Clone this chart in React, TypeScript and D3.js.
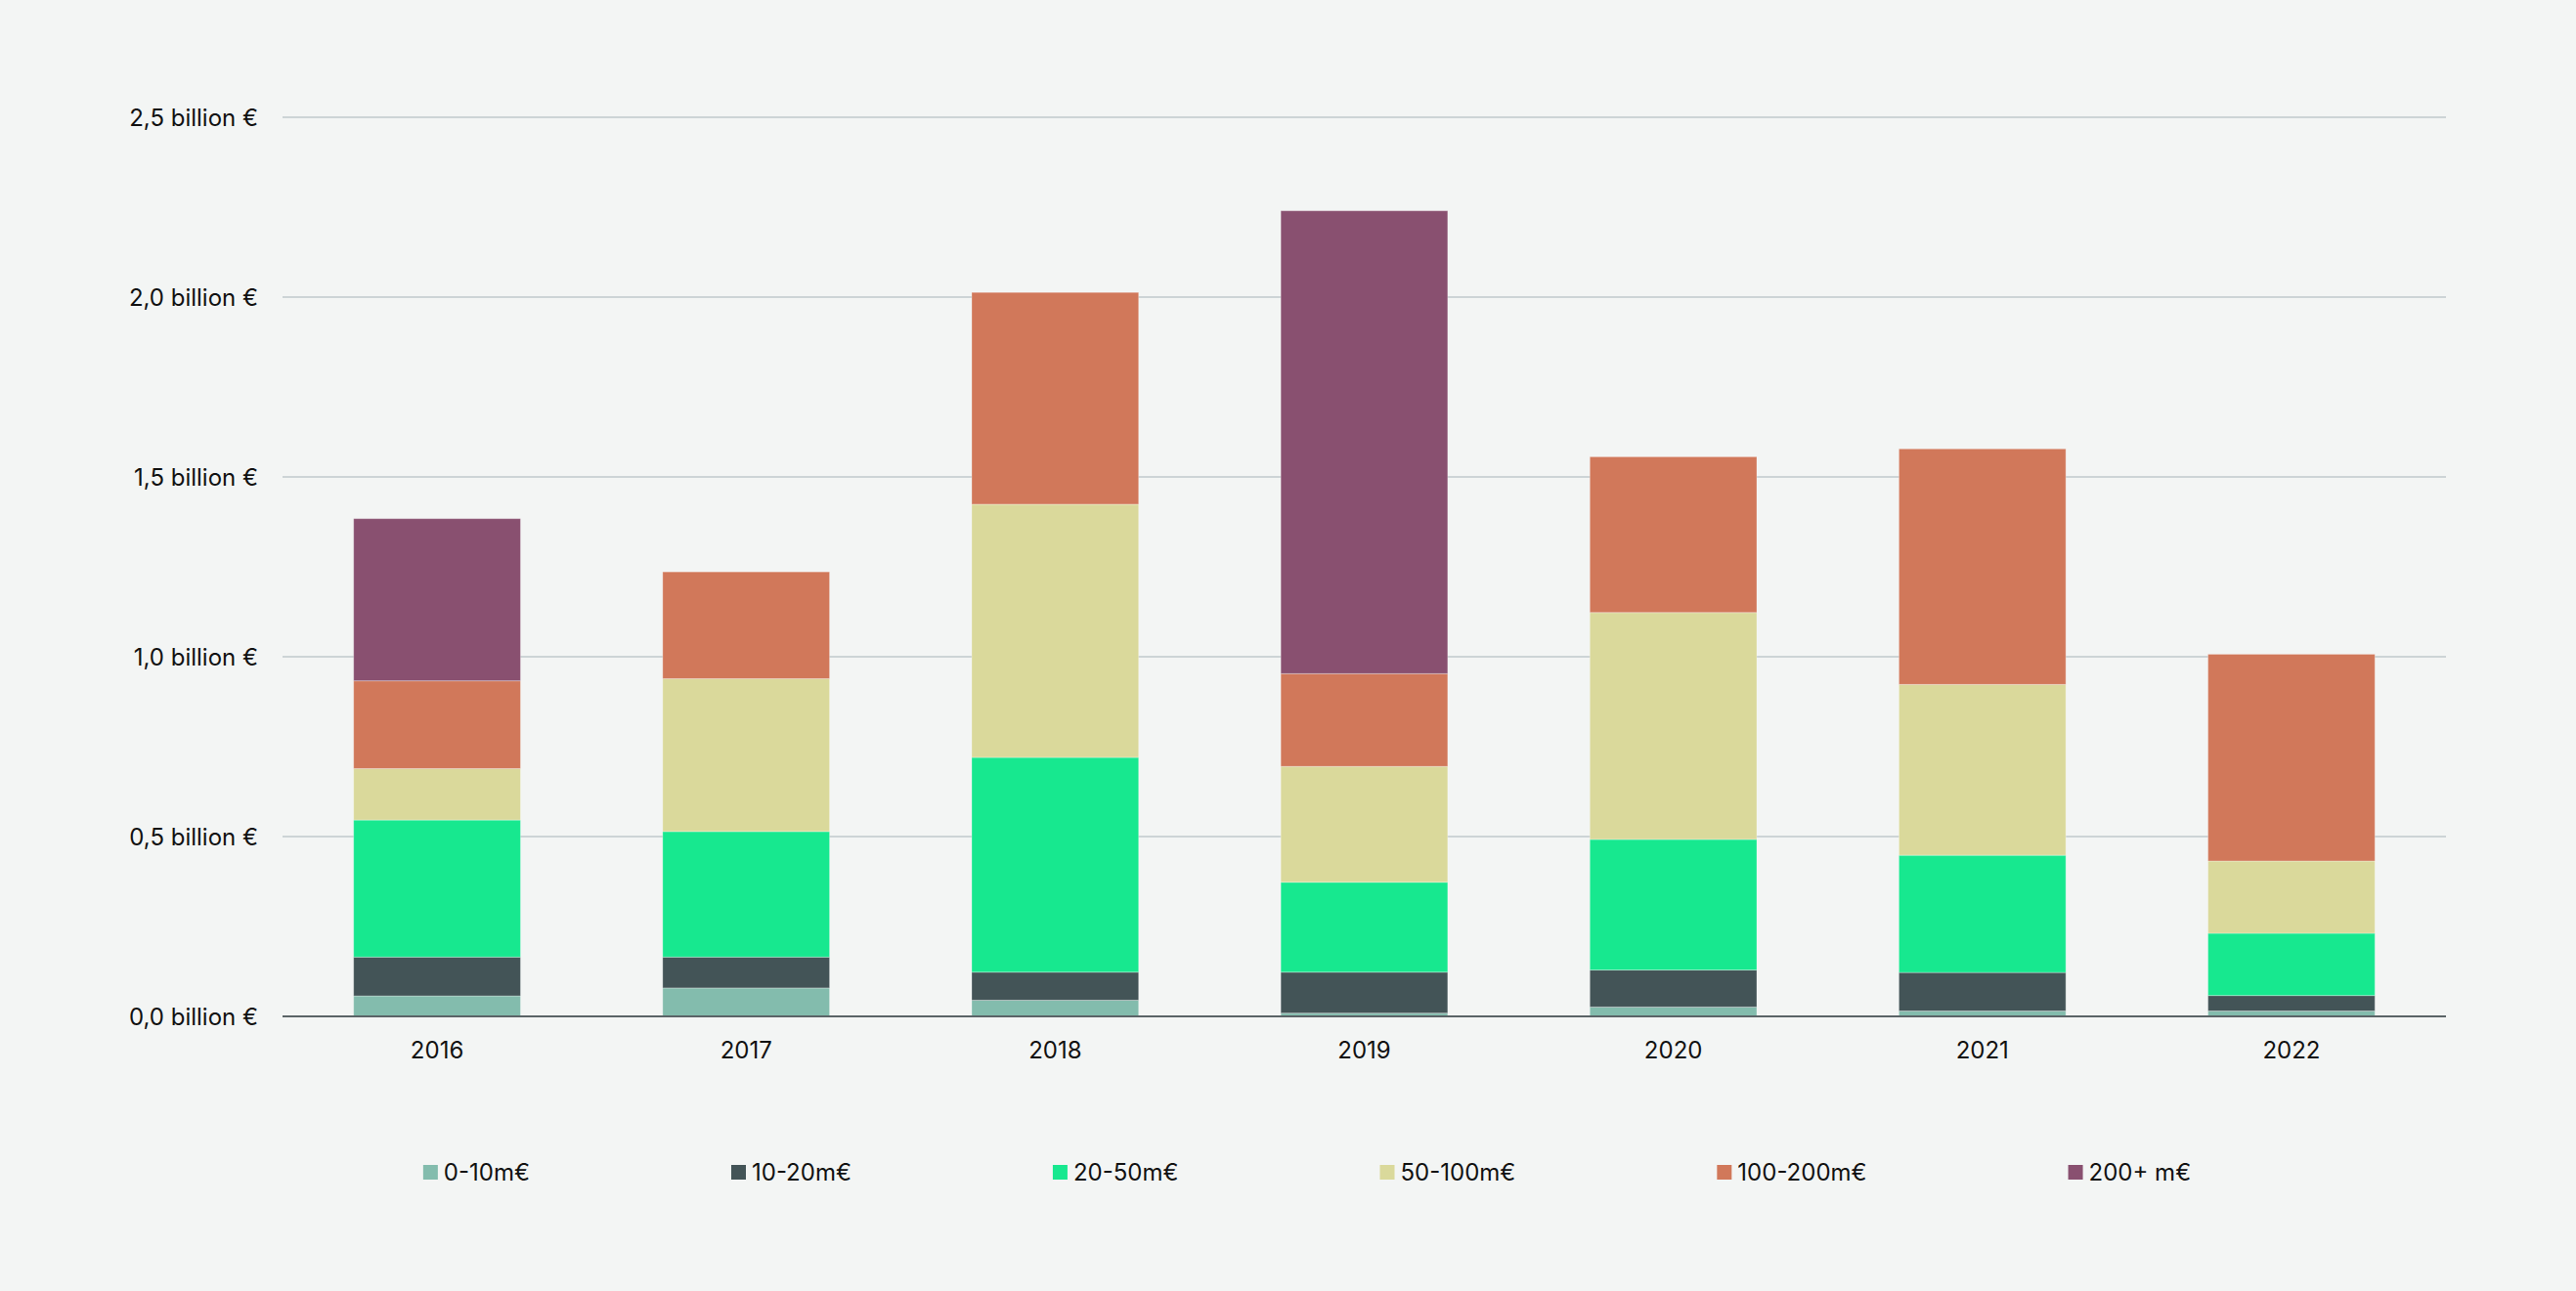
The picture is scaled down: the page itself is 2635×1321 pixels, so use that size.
import React, { useEffect, useRef } from "react";
import * as d3 from "d3";

// ---- data (billion €) ----
const years = ["2016", "2017", "2018", "2019", "2020", "2021", "2022"];
const seriesNames = ["0-10m€", "10-20m€", "20-50m€", "50-100m€", "100-200m€", "200+ m€"];
const s0to10 = [0.057, 0.079, 0.045, 0.009, 0.026, 0.015, 0.015];
const s10to20 = [0.108, 0.086, 0.078, 0.114, 0.103, 0.107, 0.043];
const s20to50 = [0.381, 0.349, 0.597, 0.25, 0.363, 0.326, 0.173];
const s50to100 = [0.143, 0.425, 0.704, 0.322, 0.631, 0.475, 0.201];
const s100to200 = [0.244, 0.297, 0.589, 0.258, 0.433, 0.655, 0.575];
const s200plus = [0.451, 0, 0, 1.287, 0, 0, 0];
const yTicks = [0, 0.5, 1.0, 1.5, 2.0, 2.5];
const seriesColors = ["#83BCAD", "#435457", "#17E88F", "#DAD99B", "#D1785A", "#895070"];

const W = 2635;
const H = 1321;
const FONT = "Inter, 'Noto Sans', sans-serif";

export default function App() {
  const ref = useRef<SVGSVGElement | null>(null);

  useEffect(() => {
    const svg = d3.select(ref.current);
    svg.selectAll("*").remove();

    const allSeries = [s0to10, s10to20, s20to50, s50to100, s100to200, s200plus];
    const rows = years.map((y, i) => {
      const r: any = { year: y };
      seriesNames.forEach((n, k) => (r[n] = allSeries[k][i]));
      return r;
    });
    const stacked = d3.stack<any>().keys(seriesNames)(rows);

    const x = d3
      .scaleBand<string>()
      .domain(years)
      .range([289, 2502])
      .paddingInner(0.46)
      .paddingOuter(0.23);
    const y = d3.scaleLinear().domain([0, 2.5]).range([1040, 120]);

    svg.append("rect").attr("width", W).attr("height", H).attr("fill", "#F3F5F4");

    // gridlines
    svg
      .append("g")
      .selectAll("line")
      .data(yTicks.filter((t) => t > 0))
      .join("line")
      .attr("x1", 289)
      .attr("x2", 2502)
      .attr("y1", (d) => y(d))
      .attr("y2", (d) => y(d))
      .attr("stroke", "#CDD4D6")
      .attr("stroke-width", 2);

    // y labels
    const fmt = (v: number) => v.toFixed(1).replace(".", ",") + " billion €";
    svg
      .append("g")
      .selectAll("text")
      .data(yTicks)
      .join("text")
      .attr("x", 264)
      .attr("y", (d) => y(d))
      .attr("dy", "0.36em")
      .attr("text-anchor", "end")
      .attr("font-family", FONT)
      .attr("font-size", 24)
      .attr("fill", "#111")
      .text(fmt);

    // bars
    svg
      .append("g")
      .selectAll("g")
      .data(stacked)
      .join("g")
      .attr("fill", (_d, i) => seriesColors[i])
      .selectAll("rect")
      .data((d) => d)
      .join("rect")
      .attr("x", (d: any) => x(d.data.year)!)
      .attr("width", x.bandwidth())
      .attr("y", (d) => y(d[1]))
      .attr("height", (d) => Math.max(0, y(d[0]) - y(d[1])))
      .attr("stroke", (d) => (d[1] - d[0] > 0 ? "rgba(255,255,255,0.3)" : "none"))
      .attr("stroke-width", 1);

    // zero axis
    svg
      .append("line")
      .attr("x1", 289)
      .attr("x2", 2502)
      .attr("y1", y(0))
      .attr("y2", y(0))
      .attr("stroke", "#5B6467")
      .attr("stroke-width", 2);

    // x labels
    svg
      .append("g")
      .selectAll("text")
      .data(years)
      .join("text")
      .attr("x", (d) => x(d)! + x.bandwidth() / 2)
      .attr("y", 1083)
      .attr("text-anchor", "middle")
      .attr("font-family", FONT)
      .attr("font-size", 24)
      .attr("fill", "#111")
      .text((d) => d);

    // legend
    const lg = svg.append("g");
    const items = lg
      .selectAll("g")
      .data(seriesNames)
      .join("g");
    items
      .append("rect")
      .attr("x", 0)
      .attr("y", 1192)
      .attr("width", 15)
      .attr("height", 15)
      .attr("fill", (_d, i) => seriesColors[i]);
    items
      .append("text")
      .attr("x", 21)
      .attr("y", 1208)
      .attr("font-family", FONT)
      .attr("font-size", 24)
      .attr("fill", "#111")
      .text((d) => d);
    const widths: number[] = [];
    items.each(function () {
      const t = d3.select(this).select("text").node() as SVGTextElement;
      widths.push(21 + t.getComputedTextLength());
    });
    const gap = 206;
    const total = d3.sum(widths) + gap * (widths.length - 1);
    let cx = 1337 - total / 2;
    items.attr("transform", (_d, i) => {
      const tx = cx;
      cx += widths[i] + gap;
      return `translate(${tx},0)`;
    });
  }, []);

  return (
    <div style={{ position: "fixed", left: 0, top: 0, width: W, height: H, background: "#F3F5F4" }}>
      <svg ref={ref} width={W} height={H} style={{ display: "block" }} />
    </div>
  );
}
